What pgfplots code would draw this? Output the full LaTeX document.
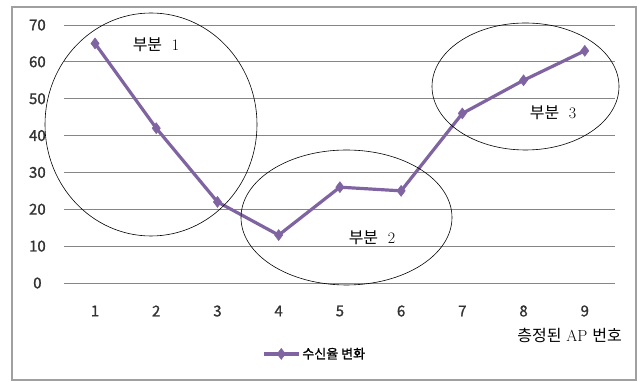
\documentclass[border=0pt]{standalone}
\usepackage{pgfplots}
\pgfplotsset{compat=1.18}
\usepackage{fontspec}
\newfontfamily\kr{Noto Sans CJK KR}
\newfontfamily\krb[FakeBold=1.2]{Noto Sans CJK KR}
\definecolor{linepurple}{RGB}{128,100,162}
\definecolor{gridgray}{RGB}{134,134,134}
\definecolor{boxgray}{RGB}{160,160,160}
\begin{document}
\begin{tikzpicture}[x=1pt,y=1pt]
\useasboundingbox (0,0) rectangle (643,382);
\fill[white] (0,0) rectangle (643,382);
\draw[boxgray, line width=1.3pt] (12,2) rectangle (636,375);
\begin{axis}[
  at={(64.4pt,99pt)}, anchor=south west,
  scale only axis, width=551pt, height=258pt,
  xmin=0.5, xmax=9.5, ymin=0, ymax=70,
  xtick={1,...,9}, ytick={0,10,...,70},
  xticklabels={1,2,3,4,5,6,7,8,9},
  yticklabels={0,10,20,30,40,50,60,70},
  axis line style={draw=none},
  tick style={draw=none},
  ymajorgrids, grid style={gridgray, line width=0.9pt},
  tick label style={font=\krb\fontsize{15}{16}\selectfont, text=black!80},
  xticklabel style={anchor=center, yshift=-28pt},
  yticklabel style={anchor=center, xshift=-27pt},
  clip=false,
  legend style={at={(rel axis cs:0.3586,-0.275)}, anchor=west, draw=none, fill=none,
    font=\krb\fontsize{13}{14}\selectfont, inner sep=0pt},
  legend cell align=left,
  legend image code/.code={\draw[mark repeat=2,mark phase=2,#1] plot coordinates {(0pt,0pt) (17.5pt,0pt) (35pt,0pt)};},
]
\addplot[linepurple, line width=3.2pt, mark=diamond*, mark size=5.5pt, mark options={solid, line width=0.5pt}]
coordinates {(1,65) (2,42) (3,22) (4,13) (5,26) (6,25) (7,46) (8,55) (9,63)};
\addlegendentry{수신율 변화}
\end{axis}
\draw[black, line width=0.6pt] (151,257.5) ellipse [x radius=106, y radius=111.5];
\draw[black, line width=0.6pt] (346.5,164.5) ellipse [x radius=105.5, y radius=67.5];
\draw[black, line width=0.6pt] (525.5,295.5) ellipse [x radius=93.5, y radius=63.5];
\node[font=\fontsize{16}{18}\selectfont] at (156,337) {{\kr 부분}\ \ 1};
\node[font=\fontsize{16}{18}\selectfont] at (372,144) {{\kr 부분}\ \ 2};
\node[font=\fontsize{16}{18}\selectfont] at (553,269) {{\kr 부분}\ \ 3};
\node[font=\fontsize{16}{18}\selectfont, anchor=east, inner sep=0pt] at (622,46.5) {{\kr 층정된}\ AP\ {\kr 번호}};
\end{tikzpicture}
\end{document}
